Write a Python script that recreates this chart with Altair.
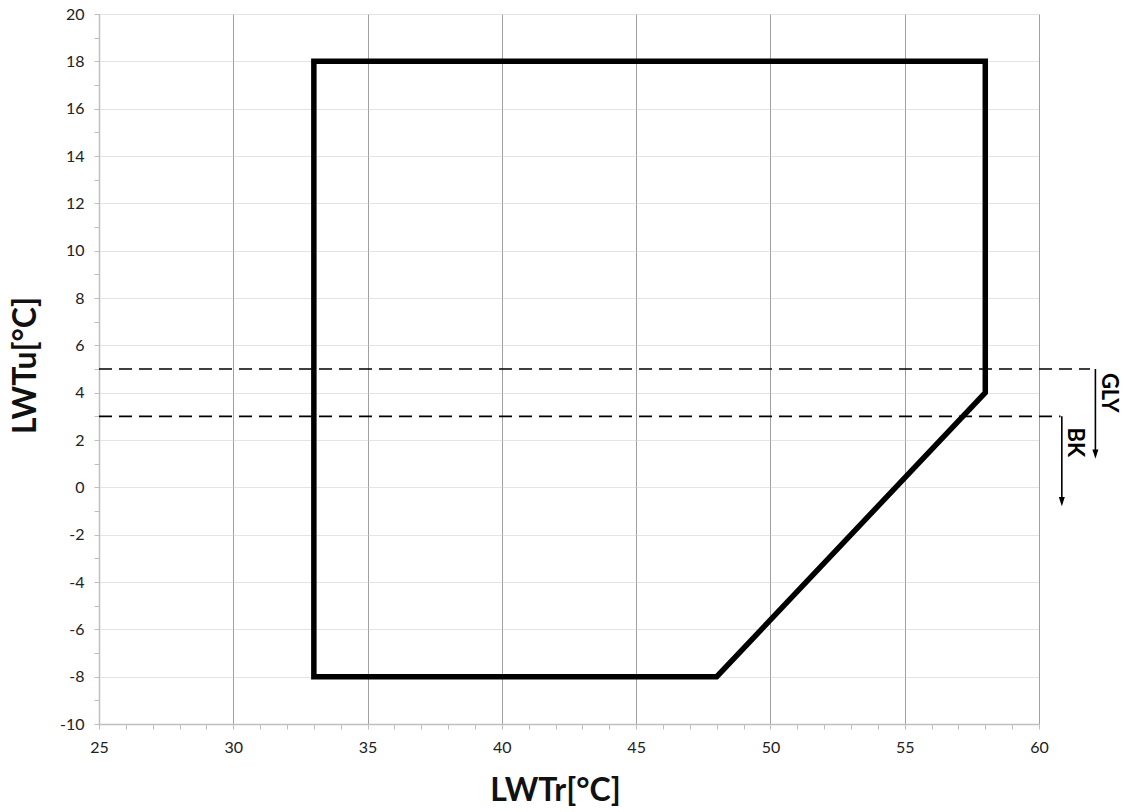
import altair as alt
import pandas as pd

# Operating envelope outline (LWTr, LWTu), closed polygon
env_x = [33, 33, 58, 58, 48, 33]
env_y = [-8, 18, 18, 4, -8, -8]

# Dashed limit lines: level and where they end on the right
limit_levels = [5, 3]
limit_end_x = [61.9, 60.8]

# Downward arrows under each limit, with their labels
arrow_names = ["GLY", "BK"]
arrow_x = [62.1, 60.85]
arrow_top = [5, 3]
arrow_bottom = [1.4, -0.6]
label_x = [62.6, 61.35]
label_y = [4.0, 1.9]

x_ticks = list(range(25, 61))
y_ticks = list(range(-10, 21))

FONT = "Lato"

env = pd.DataFrame({"x": env_x, "y": env_y, "o": range(len(env_x))})
limits = pd.DataFrame({"x0": [25] * len(limit_levels), "x1": limit_end_x, "y": limit_levels})
arrows = pd.DataFrame({"name": arrow_names, "x": arrow_x, "top": arrow_top, "bottom": arrow_bottom,
                       "lx": label_x, "ly": label_y})

xscale = alt.Scale(domain=[25, 60], nice=False, zero=False)
yscale = alt.Scale(domain=[-10, 20], nice=False, zero=False)

x_axis = alt.Axis(
    values=x_ticks, tickCount=200,
    labelExpr="datum.value % 5 === 0 ? '' + datum.value : ''",
    labelOverlap=False, labelFlush=False,
    labelFont=FONT, labelFontSize=16, labelColor="#222222", labelPadding=10,
    grid=True,
    gridColor="#a0a0a0", gridWidth=1,
    gridOpacity={"condition": {"test": "datum.value % 5 === 0", "value": 1}, "value": 0},
    tickColor="#bfbfbf", tickSize=5,
    domainColor="#bfbfbf", domainWidth=1.5,
    title="LWTr[°C]", titleFont=FONT, titleFontSize=32, titleFontWeight="bold",
    titleColor="#111111", titleX=456, titleY=66, titleBaseline="middle", titleAlign="center",
)
y_axis = alt.Axis(
    values=y_ticks, tickCount=200,
    labelExpr="datum.value % 2 === 0 ? '' + datum.value : ''",
    labelOverlap=False, labelFlush=False,
    labelFont=FONT, labelFontSize=16, labelColor="#222222", labelPadding=10,
    grid=True,
    gridColor="#c8c8c8", gridWidth=1, gridDash=[1, 1],
    gridOpacity={"condition": {"test": "datum.value % 2 === 0", "value": 1}, "value": 0},
    tickColor="#bfbfbf", tickSize=5,
    domainColor="#bfbfbf", domainWidth=1.5,
    title="LWTu[°C]", titleFont=FONT, titleFontSize=32, titleFontWeight="bold",
    titleColor="#111111", titleX=-74, titleY=351, titleBaseline="middle", titleAlign="center",
    titleAngle=-90,
)

outline = alt.Chart(env).mark_line(color="black", strokeWidth=5.5, strokeJoin="miter", strokeCap="square").encode(
    x=alt.X("x:Q", scale=xscale, axis=x_axis),
    y=alt.Y("y:Q", scale=yscale, axis=y_axis),
    order="o:Q",
)

dashed = alt.Chart(limits).mark_rule(color="black", strokeWidth=1.6, strokeDash=[13, 7]).encode(
    x=alt.X("x0:Q", scale=xscale), x2="x1:Q", y=alt.Y("y:Q", scale=yscale),
)

shafts = alt.Chart(arrows).mark_rule(color="black", strokeWidth=1.6).encode(
    x=alt.X("x:Q", scale=xscale), y=alt.Y("top:Q", scale=yscale), y2="bottom:Q",
)

heads = alt.Chart(arrows).mark_point(shape="M-0.65,-1L0.65,-1L0,1Z", filled=True, color="black",
                                     opacity=1, size=85).encode(
    x=alt.X("x:Q", scale=xscale), y=alt.Y("bottom:Q", scale=yscale),
)

labels = alt.Chart(arrows).mark_text(angle=90, font=FONT, fontSize=22, fontWeight="bold", color="black",
                                     align="center", baseline="middle").encode(
    x=alt.X("lx:Q", scale=xscale), y=alt.Y("ly:Q", scale=yscale), text="name:N",
)

chart = alt.layer(outline, dashed, shafts, heads, labels).properties(
    width=940, height=710,
    autosize=alt.AutoSizeParams(type="none"),
    padding={"left": 99, "top": 14, "right": 85, "bottom": 88},
    background="white",
).configure_view(stroke=None)

chart.save("out.html", embed_options={"renderer": "svg", "actions": False})
